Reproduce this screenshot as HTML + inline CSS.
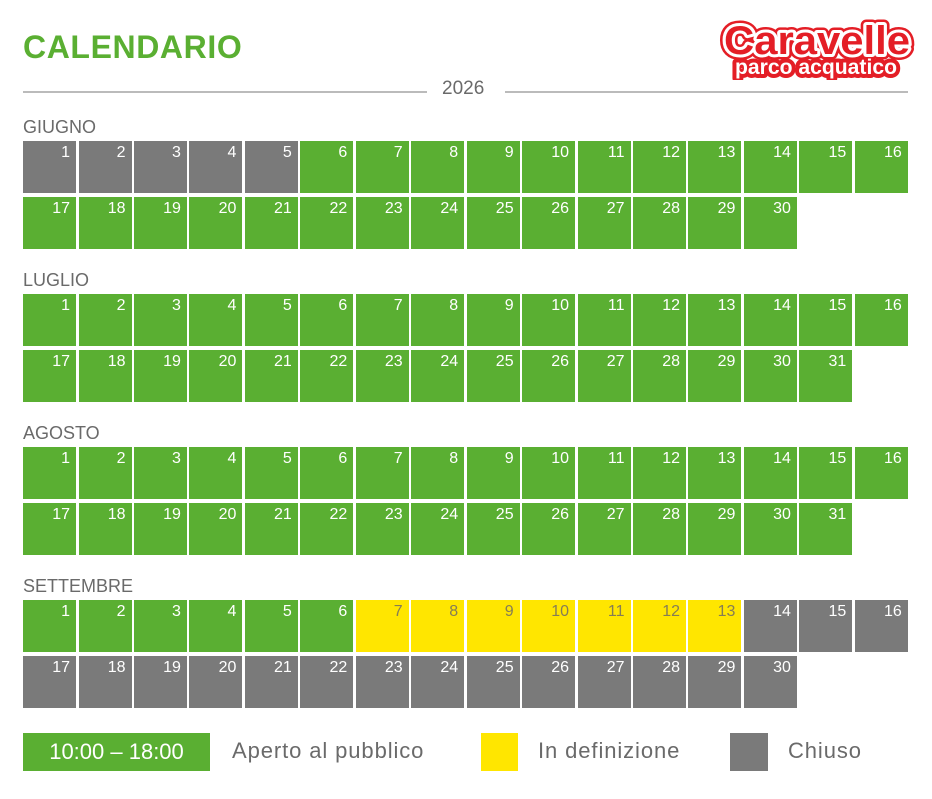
<!DOCTYPE html>
<html><head><meta charset="utf-8"><style>
body{margin:0;background:#fff;width:932px;height:799px;position:relative;overflow:hidden;font-family:"Liberation Sans",sans-serif}
.a{position:absolute}
.c{position:absolute;width:53px;height:52px;box-sizing:border-box;text-align:right;padding:3px 6px 0 0;font-size:16px;color:#fff}
.g{background:#5aaf32}.k{background:#7a7a7a}.y{background:#ffe600;color:#857d55}
.m{position:absolute;left:23px;font-size:18px;color:#6a6a6a}
.l{position:absolute;font-size:22px;color:#6a6a6a;letter-spacing:0.9px}
</style></head><body>
<div class="a" style="left:23px;top:29px;font-size:32px;font-weight:bold;color:#5aaf32;letter-spacing:0.6px">CALENDARIO</div>
<div class="a" style="left:23px;top:91px;width:404px;height:2px;background:#bbb"></div>
<div class="a" style="left:505px;top:91px;width:403px;height:2px;background:#bbb"></div>
<div class="a" style="left:442px;top:78px;font-size:19px;color:#6a6a6a">2026</div>
<svg class="a" style="left:715px;top:14px" width="205" height="66">
<g font-family="Liberation Sans" font-weight="bold">
<text x="9" y="40" font-size="40" textLength="186" lengthAdjust="spacingAndGlyphs" stroke="#e41e26" stroke-width="11" fill="#e41e26" stroke-linejoin="round">Caravelle</text>
<text x="20" y="60" font-size="21" textLength="162" lengthAdjust="spacingAndGlyphs" stroke="#e41e26" stroke-width="8" fill="#e41e26" stroke-linejoin="round">parco acquatico</text>
<text x="9" y="40" font-size="40" textLength="186" lengthAdjust="spacingAndGlyphs" stroke="#fff" stroke-width="6" fill="#fff" stroke-linejoin="round">Caravelle</text>
<text x="20" y="60" font-size="21" textLength="162" lengthAdjust="spacingAndGlyphs" fill="#fff">parco acquatico</text>
<text x="9" y="40" font-size="40" textLength="186" lengthAdjust="spacingAndGlyphs" fill="#e41e26">Caravelle</text>
</g></svg>
<div id="cal"></div>
<div class="a" style="left:23px;top:733px;width:187px;height:38px;background:#5aaf32;color:#fff;font-size:22px;text-align:center;line-height:38px">10:00 – 18:00</div>
<div class="l" style="left:232px;top:738px">Aperto al pubblico</div>
<div class="a" style="left:481px;top:733px;width:37px;height:38px;background:#ffe600"></div>
<div class="l" style="left:538px;top:738px">In definizione</div>
<div class="a" style="left:730px;top:733px;width:38px;height:38px;background:#7a7a7a"></div>
<div class="l" style="left:788px;top:738px">Chiuso</div>
<script>
var months=[["GIUGNO",30,141,function(d){return d<=5?"k":"g"}],
["LUGLIO",31,294,function(){return "g"}],
["AGOSTO",31,447,function(){return "g"}],
["SETTEMBRE",30,600,function(d){return d<=6?"g":d<=13?"y":"k"}]];
var h="";
months.forEach(function(m){
 h+='<div class="m" style="top:'+(m[2]-24)+'px">'+m[0]+'</div>';
 for(var d=1;d<=m[1];d++){
  var i=(d-1)%16,r=Math.floor((d-1)/16);
  h+='<div class="c '+m[3](d)+'" style="left:'+(23+i*55.45).toFixed(1)+'px;top:'+(m[2]+r*56)+'px">'+d+'</div>';
 }
});
document.getElementById("cal").innerHTML=h;
</script>
</body></html>
